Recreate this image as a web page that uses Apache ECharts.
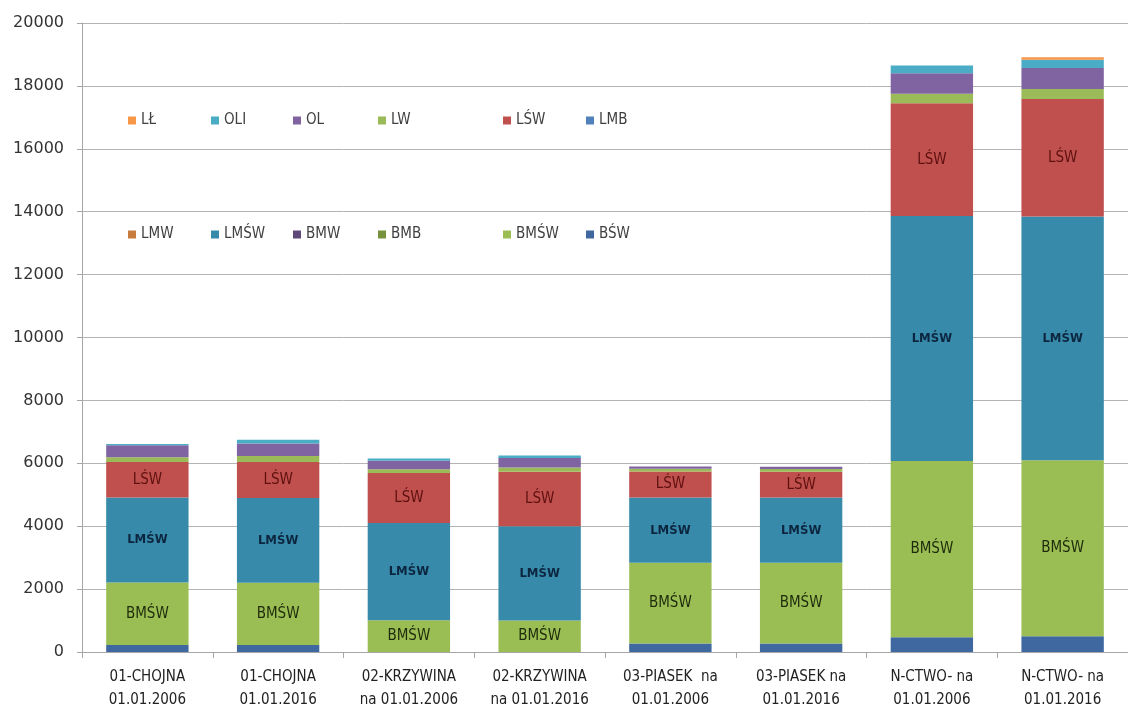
<!DOCTYPE html>
<html>
<head>
<meta charset="utf-8">
<style>
  html, body { margin: 0; padding: 0; background: #fff; }
  #main { width: 1128px; height: 718px; }
</style>
<script src="https://cdn.jsdelivr.net/npm/echarts@6/dist/echarts.min.js"></script>
</head>
<body>
<div id="main"></div>
<script>
// kategorie (oś X)
var categories = [
  "01-CHOJNA\n01.01.2006",
  "01-CHOJNA\n01.01.2016",
  "02-KRZYWINA\nna 01.01.2006",
  "02-KRZYWINA\nna 01.01.2016",
  "03-PIASEK  na\n01.01.2006",
  "03-PIASEK na\n01.01.2016",
  "N-CTWO- na\n01.01.2006",
  "N-CTWO- na\n01.01.2016"
];

// serie od dołu słupka
var BSW  = [220, 220, 0, 0, 270, 270, 470, 500];
var BMSW = [1990, 1980, 1010, 1000, 2570, 2570, 5600, 5600];
var BMB  = [0, 0, 0, 0, 0, 0, 0, 0];
var BMW  = [0, 0, 0, 0, 0, 0, 0, 0];
var LMSW = [2700, 2700, 3090, 3000, 2070, 2070, 7790, 7750];
var LMW  = [0, 0, 0, 0, 0, 0, 0, 0];
var LMB  = [0, 0, 0, 0, 0, 0, 0, 0];
var LSW  = [1130, 1140, 1590, 1730, 830, 820, 3590, 3730];
var LW   = [150, 190, 120, 140, 90, 90, 300, 320];
var OL   = [380, 400, 270, 300, 70, 70, 650, 670];
var OLI  = [40, 120, 70, 80, 0, 0, 250, 260];
var LL   = [0, 0, 0, 0, 0, 0, 0, 80];

var yTicks = [0, 20000, 2000];

var font = "'Liberation Sans Narrow', 'DejaVu Sans Condensed', 'Noto Sans', sans-serif";

function bar(name, data, color, label) {
  var s = {
    name: name,
    type: "bar",
    stack: "total",
    barWidth: "63%",
    data: data,
    itemStyle: { color: color },
    emphasis: { disabled: true }
  };
  if (label) {
    s.label = {
      show: true,
      position: "inside",
      formatter: "{a}",
      color: label.color,
      fontSize: label.size,
      fontWeight: label.weight || "normal",
      fontFamily: font
    };
  }
  return s;
}

var series = [
  bar("BŚW", BSW, "#3F67A0"),
  bar("BMŚW", BMSW, "#9BBE54", { color: "#1e2a0c", size: 15 }),
  bar("BMB", BMB, "#76923C"),
  bar("BMW", BMW, "#5F497A"),
  bar("LMŚW", LMSW, "#378AAA", { color: "#0d2640", size: 13, weight: "bold" }),
  bar("LMW", LMW, "#C77C3E"),
  bar("LMB", LMB, "#4F81BD"),
  bar("LŚW", LSW, "#C0504D", { color: "#5e1110", size: 15 }),
  bar("LW", LW, "#9BBB59"),
  bar("OL", OL, "#8064A2"),
  bar("OLI", OLI, "#4BACC6"),
  bar("LŁ", LL, "#F79646")
];

// legenda: 6 kolumn po 2 pozycje
var legendCols = [
  ["LŁ", "LMW"],
  ["OLI", "LMŚW"],
  ["OL", "BMW"],
  ["LW", "BMB"],
  ["LŚW", "BMŚW"],
  ["LMB", "BŚW"]
];
var legendLeft = [123, 206, 288, 373, 498, 581];

var legends = legendCols.map(function (col, i) {
  return {
    data: col,
    orient: "vertical",
    left: legendLeft[i],
    top: 108,
    itemGap: 99,
    itemWidth: 8,
    itemHeight: 8,
    icon: "rect",
    selectedMode: false,
    textStyle: { color: "#404040", fontSize: 15, fontFamily: font }
  };
});

var myChart = echarts.init(document.getElementById("main"));
myChart.setOption({
  animation: false,
  backgroundColor: "#fff",
  legend: legends,
  grid: { left: 82, top: 23, right: -8, bottom: 66 },
  xAxis: {
    type: "category",
    data: categories,
    axisLine: { lineStyle: { color: "#a6a6a6" } },
    axisTick: { show: true, length: 6, lineStyle: { color: "#a6a6a6" } },
    axisLabel: {
      color: "#222",
      fontSize: 15,
      fontFamily: font,
      lineHeight: 23,
      margin: 14,
      interval: 0
    }
  },
  yAxis: {
    type: "value",
    min: yTicks[0],
    max: yTicks[1],
    interval: yTicks[2],
    axisLine: { show: true, lineStyle: { color: "#a6a6a6" } },
    axisTick: { show: true, length: 5, lineStyle: { color: "#a6a6a6" } },
    axisLabel: {
      color: "#333",
      fontSize: 16,
      fontFamily: "'DejaVu Sans', sans-serif",
      margin: 18,
      formatter: function (v) { return String(v); }
    },
    splitLine: { lineStyle: { color: "#b4b4b4" } }
  },
  series: series
});
</script>
</body>
</html>
